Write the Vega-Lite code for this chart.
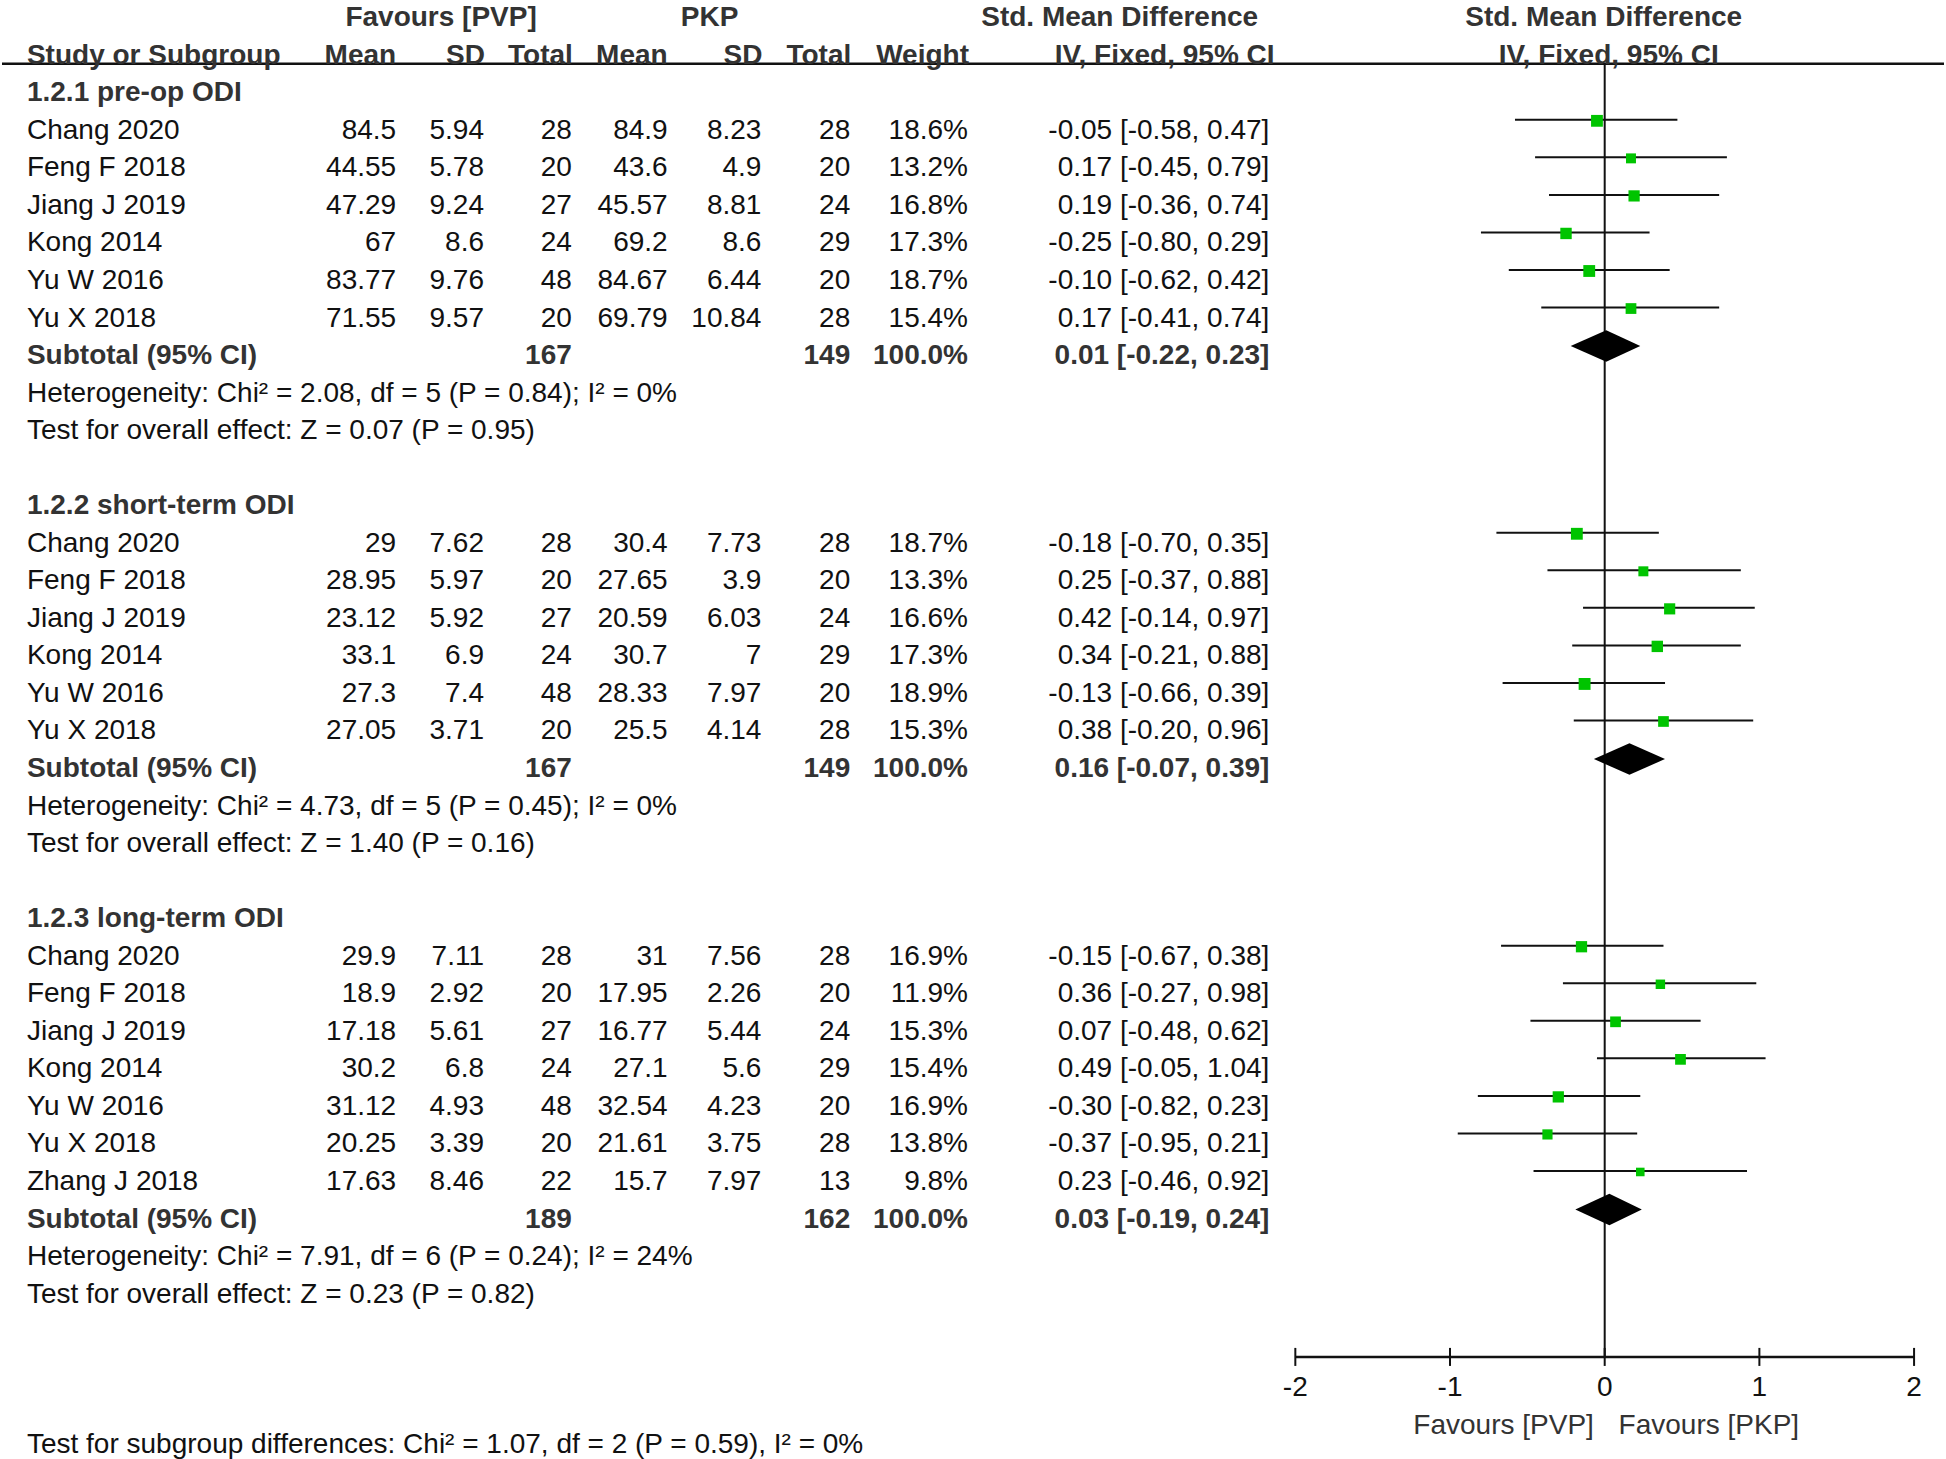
{
  "$schema": "https://vega.github.io/schema/vega-lite/v6.json",
  "width": 1946,
  "height": 1459,
  "autosize": {"type": "fit", "contains": "padding"},
  "padding": 0,
  "background": "white",
  "config": {
    "view": {"stroke": null},
    "axis": {"disable": true},
    "text": {"font": "Liberation Sans", "fontSize": 28, "baseline": "middle", "color": "#111", "dy": 3}
  },
  "datasets": {
    "studies": [
      {"g": 1, "row": 1, "study": "Chang 2020", "m1": 84.5, "s1": 5.94, "n1": 28, "m2": 84.9, "s2": 8.23, "n2": 28, "w": 18.6, "est": -0.05, "lo": -0.58, "hi": 0.47, "ci": "-0.05 [-0.58, 0.47]"},
      {"g": 1, "row": 2, "study": "Feng F 2018", "m1": 44.55, "s1": 5.78, "n1": 20, "m2": 43.6, "s2": 4.9, "n2": 20, "w": 13.2, "est": 0.17, "lo": -0.45, "hi": 0.79, "ci": "0.17 [-0.45, 0.79]"},
      {"g": 1, "row": 3, "study": "Jiang J 2019", "m1": 47.29, "s1": 9.24, "n1": 27, "m2": 45.57, "s2": 8.81, "n2": 24, "w": 16.8, "est": 0.19, "lo": -0.36, "hi": 0.74, "ci": "0.19 [-0.36, 0.74]"},
      {"g": 1, "row": 4, "study": "Kong 2014", "m1": 67, "s1": 8.6, "n1": 24, "m2": 69.2, "s2": 8.6, "n2": 29, "w": 17.3, "est": -0.25, "lo": -0.80, "hi": 0.29, "ci": "-0.25 [-0.80, 0.29]"},
      {"g": 1, "row": 5, "study": "Yu W 2016", "m1": 83.77, "s1": 9.76, "n1": 48, "m2": 84.67, "s2": 6.44, "n2": 20, "w": 18.7, "est": -0.10, "lo": -0.62, "hi": 0.42, "ci": "-0.10 [-0.62, 0.42]"},
      {"g": 1, "row": 6, "study": "Yu X 2018", "m1": 71.55, "s1": 9.57, "n1": 20, "m2": 69.79, "s2": 10.84, "n2": 28, "w": 15.4, "est": 0.17, "lo": -0.41, "hi": 0.74, "ci": "0.17 [-0.41, 0.74]"},
      {"g": 2, "row": 12, "study": "Chang 2020", "m1": 29, "s1": 7.62, "n1": 28, "m2": 30.4, "s2": 7.73, "n2": 28, "w": 18.7, "est": -0.18, "lo": -0.70, "hi": 0.35, "ci": "-0.18 [-0.70, 0.35]"},
      {"g": 2, "row": 13, "study": "Feng F 2018", "m1": 28.95, "s1": 5.97, "n1": 20, "m2": 27.65, "s2": 3.9, "n2": 20, "w": 13.3, "est": 0.25, "lo": -0.37, "hi": 0.88, "ci": "0.25 [-0.37, 0.88]"},
      {"g": 2, "row": 14, "study": "Jiang J 2019", "m1": 23.12, "s1": 5.92, "n1": 27, "m2": 20.59, "s2": 6.03, "n2": 24, "w": 16.6, "est": 0.42, "lo": -0.14, "hi": 0.97, "ci": "0.42 [-0.14, 0.97]"},
      {"g": 2, "row": 15, "study": "Kong 2014", "m1": 33.1, "s1": 6.9, "n1": 24, "m2": 30.7, "s2": 7, "n2": 29, "w": 17.3, "est": 0.34, "lo": -0.21, "hi": 0.88, "ci": "0.34 [-0.21, 0.88]"},
      {"g": 2, "row": 16, "study": "Yu W 2016", "m1": 27.3, "s1": 7.4, "n1": 48, "m2": 28.33, "s2": 7.97, "n2": 20, "w": 18.9, "est": -0.13, "lo": -0.66, "hi": 0.39, "ci": "-0.13 [-0.66, 0.39]"},
      {"g": 2, "row": 17, "study": "Yu X 2018", "m1": 27.05, "s1": 3.71, "n1": 20, "m2": 25.5, "s2": 4.14, "n2": 28, "w": 15.3, "est": 0.38, "lo": -0.20, "hi": 0.96, "ci": "0.38 [-0.20, 0.96]"},
      {"g": 3, "row": 23, "study": "Chang 2020", "m1": 29.9, "s1": 7.11, "n1": 28, "m2": 31, "s2": 7.56, "n2": 28, "w": 16.9, "est": -0.15, "lo": -0.67, "hi": 0.38, "ci": "-0.15 [-0.67, 0.38]"},
      {"g": 3, "row": 24, "study": "Feng F 2018", "m1": 18.9, "s1": 2.92, "n1": 20, "m2": 17.95, "s2": 2.26, "n2": 20, "w": 11.9, "est": 0.36, "lo": -0.27, "hi": 0.98, "ci": "0.36 [-0.27, 0.98]"},
      {"g": 3, "row": 25, "study": "Jiang J 2019", "m1": 17.18, "s1": 5.61, "n1": 27, "m2": 16.77, "s2": 5.44, "n2": 24, "w": 15.3, "est": 0.07, "lo": -0.48, "hi": 0.62, "ci": "0.07 [-0.48, 0.62]"},
      {"g": 3, "row": 26, "study": "Kong 2014", "m1": 30.2, "s1": 6.8, "n1": 24, "m2": 27.1, "s2": 5.6, "n2": 29, "w": 15.4, "est": 0.49, "lo": -0.05, "hi": 1.04, "ci": "0.49 [-0.05, 1.04]"},
      {"g": 3, "row": 27, "study": "Yu W 2016", "m1": 31.12, "s1": 4.93, "n1": 48, "m2": 32.54, "s2": 4.23, "n2": 20, "w": 16.9, "est": -0.30, "lo": -0.82, "hi": 0.23, "ci": "-0.30 [-0.82, 0.23]"},
      {"g": 3, "row": 28, "study": "Yu X 2018", "m1": 20.25, "s1": 3.39, "n1": 20, "m2": 21.61, "s2": 3.75, "n2": 28, "w": 13.8, "est": -0.37, "lo": -0.95, "hi": 0.21, "ci": "-0.37 [-0.95, 0.21]"},
      {"g": 3, "row": 29, "study": "Zhang J 2018", "m1": 17.63, "s1": 8.46, "n1": 22, "m2": 15.7, "s2": 7.97, "n2": 13, "w": 9.8, "est": 0.23, "lo": -0.46, "hi": 0.92, "ci": "0.23 [-0.46, 0.92]"}
    ],
    "subtotals": [
      {"g": 1, "row": 7, "label": "Subtotal (95% CI)", "n1": 167, "n2": 149, "wt": "100.0%", "est": 0.01, "lo": -0.22, "hi": 0.23, "ci": "0.01 [-0.22, 0.23]"},
      {"g": 2, "row": 18, "label": "Subtotal (95% CI)", "n1": 167, "n2": 149, "wt": "100.0%", "est": 0.16, "lo": -0.07, "hi": 0.39, "ci": "0.16 [-0.07, 0.39]"},
      {"g": 3, "row": 30, "label": "Subtotal (95% CI)", "n1": 189, "n2": 162, "wt": "100.0%", "est": 0.03, "lo": -0.19, "hi": 0.24, "ci": "0.03 [-0.19, 0.24]"}
    ],
    "groups": [
      {"row": 0, "label": "1.2.1 pre-op ODI"},
      {"row": 11, "label": "1.2.2 short-term ODI"},
      {"row": 22, "label": "1.2.3 long-term ODI"}
    ],
    "notes": [
      {"row": 8, "label": "Heterogeneity: Chi² = 2.08, df = 5 (P = 0.84); I² = 0%"},
      {"row": 9, "label": "Test for overall effect: Z = 0.07 (P = 0.95)"},
      {"row": 19, "label": "Heterogeneity: Chi² = 4.73, df = 5 (P = 0.45); I² = 0%"},
      {"row": 20, "label": "Test for overall effect: Z = 1.40 (P = 0.16)"},
      {"row": 31, "label": "Heterogeneity: Chi² = 7.91, df = 6 (P = 0.24); I² = 24%"},
      {"row": 32, "label": "Test for overall effect: Z = 0.23 (P = 0.82)"},
      {"row": 36, "label": "Test for subgroup differences: Chi² = 1.07, df = 2 (P = 0.59), I² = 0%"}
    ],
    "ticks": [{"t": -2}, {"t": -1}, {"t": 0}, {"t": 1}, {"t": 2}]
  },
  "resolve": {"scale": {"x": "independent"}},
  "layer": [
    {
      "layer": [
        {
          "data": {"values": [{}]},
          "mark": {"type": "rule", "color": "#111", "strokeWidth": 2.5},
          "encoding": {
            "x": {"datum": 0, "type": "quantitative", "scale": {"domain": [0, 1946], "nice": false, "zero": false}, "axis": null},
            "x2": {"datum": 1946},
            "y": {"datum": -0.706, "type": "quantitative", "scale": {"domain": [-2.405, 36.326], "reverse": true, "nice": false, "zero": false}, "axis": null}
          }
        },
        {"data": {"values": [{}]}, "mark": {"type": "text", "text": "Favours [PVP]", "fontWeight": "bold", "color": "#333", "align": "center"},
         "encoding": {"x": {"datum": 440, "type": "quantitative"}, "y": {"datum": -2, "type": "quantitative"}}},
        {"data": {"values": [{}]}, "mark": {"type": "text", "text": "PKP", "fontWeight": "bold", "color": "#333", "align": "center"},
         "encoding": {"x": {"datum": 709, "type": "quantitative"}, "y": {"datum": -2, "type": "quantitative"}}},
        {"data": {"values": [{}]}, "mark": {"type": "text", "text": "Std. Mean Difference", "fontWeight": "bold", "color": "#333", "align": "center"},
         "encoding": {"x": {"datum": 1120, "type": "quantitative"}, "y": {"datum": -2, "type": "quantitative"}}},
        {"data": {"values": [{}]}, "mark": {"type": "text", "text": "Std. Mean Difference", "fontWeight": "bold", "color": "#333", "align": "center"},
         "encoding": {"x": {"datum": 1605, "type": "quantitative"}, "y": {"datum": -2, "type": "quantitative"}}},
        {"data": {"values": [{}]}, "mark": {"type": "text", "text": "Study or Subgroup", "fontWeight": "bold", "color": "#333", "align": "left"},
         "encoding": {"x": {"datum": 25, "type": "quantitative"}, "y": {"datum": -1, "type": "quantitative"}}},
        {"data": {"values": [{}]}, "mark": {"type": "text", "text": "Mean", "fontWeight": "bold", "color": "#333", "align": "right"},
         "encoding": {"x": {"datum": 395, "type": "quantitative"}, "y": {"datum": -1, "type": "quantitative"}}},
        {"data": {"values": [{}]}, "mark": {"type": "text", "text": "SD", "fontWeight": "bold", "color": "#333", "align": "right"},
         "encoding": {"x": {"datum": 484, "type": "quantitative"}, "y": {"datum": -1, "type": "quantitative"}}},
        {"data": {"values": [{}]}, "mark": {"type": "text", "text": "Total", "fontWeight": "bold", "color": "#333", "align": "right"},
         "encoding": {"x": {"datum": 572, "type": "quantitative"}, "y": {"datum": -1, "type": "quantitative"}}},
        {"data": {"values": [{}]}, "mark": {"type": "text", "text": "Mean", "fontWeight": "bold", "color": "#333", "align": "right"},
         "encoding": {"x": {"datum": 667, "type": "quantitative"}, "y": {"datum": -1, "type": "quantitative"}}},
        {"data": {"values": [{}]}, "mark": {"type": "text", "text": "SD", "fontWeight": "bold", "color": "#333", "align": "right"},
         "encoding": {"x": {"datum": 762, "type": "quantitative"}, "y": {"datum": -1, "type": "quantitative"}}},
        {"data": {"values": [{}]}, "mark": {"type": "text", "text": "Total", "fontWeight": "bold", "color": "#333", "align": "right"},
         "encoding": {"x": {"datum": 851, "type": "quantitative"}, "y": {"datum": -1, "type": "quantitative"}}},
        {"data": {"values": [{}]}, "mark": {"type": "text", "text": "Weight", "fontWeight": "bold", "color": "#333", "align": "right"},
         "encoding": {"x": {"datum": 969, "type": "quantitative"}, "y": {"datum": -1, "type": "quantitative"}}},
        {"data": {"values": [{}]}, "mark": {"type": "text", "text": "IV, Fixed, 95% CI", "fontWeight": "bold", "color": "#333", "align": "center"},
         "encoding": {"x": {"datum": 1165, "type": "quantitative"}, "y": {"datum": -1, "type": "quantitative"}}},
        {"data": {"values": [{}]}, "mark": {"type": "text", "text": "IV, Fixed, 95% CI", "fontWeight": "bold", "color": "#333", "align": "center"},
         "encoding": {"x": {"datum": 1610, "type": "quantitative"}, "y": {"datum": -1, "type": "quantitative"}}},

        {"data": {"name": "groups"}, "mark": {"type": "text", "fontWeight": "bold", "color": "#333", "align": "left"},
         "encoding": {"x": {"datum": 25, "type": "quantitative"}, "y": {"field": "row", "type": "quantitative"}, "text": {"field": "label", "type": "nominal"}}},
        {"data": {"name": "notes"}, "mark": {"type": "text", "align": "left"},
         "encoding": {"x": {"datum": 25, "type": "quantitative"}, "y": {"field": "row", "type": "quantitative"}, "text": {"field": "label", "type": "nominal"}}},

        {"data": {"name": "studies"}, "mark": {"type": "text", "align": "left"},
         "encoding": {"x": {"datum": 25, "type": "quantitative"}, "y": {"field": "row", "type": "quantitative"}, "text": {"field": "study", "type": "nominal"}}},
        {"data": {"name": "studies"}, "mark": {"type": "text", "align": "right"},
         "encoding": {"x": {"datum": 395, "type": "quantitative"}, "y": {"field": "row", "type": "quantitative"}, "text": {"field": "m1", "type": "nominal"}}},
        {"data": {"name": "studies"}, "mark": {"type": "text", "align": "right"},
         "encoding": {"x": {"datum": 483, "type": "quantitative"}, "y": {"field": "row", "type": "quantitative"}, "text": {"field": "s1", "type": "nominal"}}},
        {"data": {"name": "studies"}, "mark": {"type": "text", "align": "right"},
         "encoding": {"x": {"datum": 571, "type": "quantitative"}, "y": {"field": "row", "type": "quantitative"}, "text": {"field": "n1", "type": "nominal"}}},
        {"data": {"name": "studies"}, "mark": {"type": "text", "align": "right"},
         "encoding": {"x": {"datum": 667, "type": "quantitative"}, "y": {"field": "row", "type": "quantitative"}, "text": {"field": "m2", "type": "nominal"}}},
        {"data": {"name": "studies"}, "mark": {"type": "text", "align": "right"},
         "encoding": {"x": {"datum": 761, "type": "quantitative"}, "y": {"field": "row", "type": "quantitative"}, "text": {"field": "s2", "type": "nominal"}}},
        {"data": {"name": "studies"}, "mark": {"type": "text", "align": "right"},
         "encoding": {"x": {"datum": 850, "type": "quantitative"}, "y": {"field": "row", "type": "quantitative"}, "text": {"field": "n2", "type": "nominal"}}},
        {"data": {"name": "studies"}, "transform": [{"calculate": "format(datum.w, '.1f') + '%'", "as": "wl"}],
         "mark": {"type": "text", "align": "right"},
         "encoding": {"x": {"datum": 968, "type": "quantitative"}, "y": {"field": "row", "type": "quantitative"}, "text": {"field": "wl", "type": "nominal"}}},
        {"data": {"name": "studies"}, "mark": {"type": "text", "align": "right"},
         "encoding": {"x": {"datum": 1270, "type": "quantitative"}, "y": {"field": "row", "type": "quantitative"}, "text": {"field": "ci", "type": "nominal"}}},

        {"data": {"name": "subtotals"}, "mark": {"type": "text", "align": "left", "fontWeight": "bold", "color": "#333"},
         "encoding": {"x": {"datum": 25, "type": "quantitative"}, "y": {"field": "row", "type": "quantitative"}, "text": {"field": "label", "type": "nominal"}}},
        {"data": {"name": "subtotals"}, "mark": {"type": "text", "align": "right", "fontWeight": "bold", "color": "#333"},
         "encoding": {"x": {"datum": 571, "type": "quantitative"}, "y": {"field": "row", "type": "quantitative"}, "text": {"field": "n1", "type": "nominal"}}},
        {"data": {"name": "subtotals"}, "mark": {"type": "text", "align": "right", "fontWeight": "bold", "color": "#333"},
         "encoding": {"x": {"datum": 850, "type": "quantitative"}, "y": {"field": "row", "type": "quantitative"}, "text": {"field": "n2", "type": "nominal"}}},
        {"data": {"name": "subtotals"}, "mark": {"type": "text", "align": "right", "fontWeight": "bold", "color": "#333"},
         "encoding": {"x": {"datum": 968, "type": "quantitative"}, "y": {"field": "row", "type": "quantitative"}, "text": {"field": "wt", "type": "nominal"}}},
        {"data": {"name": "subtotals"}, "mark": {"type": "text", "align": "right", "fontWeight": "bold", "color": "#333"},
         "encoding": {"x": {"datum": 1270, "type": "quantitative"}, "y": {"field": "row", "type": "quantitative"}, "text": {"field": "ci", "type": "nominal"}}}
      ]
    },
    {
      "layer": [
        {
          "data": {"values": [{}]},
          "mark": {"type": "rule", "color": "#111", "strokeWidth": 2},
          "encoding": {
            "x": {"datum": 0, "type": "quantitative", "scale": {"domain": [-10.361, 2.1935], "nice": false, "zero": false}, "axis": null},
            "y": {"datum": -0.706, "type": "quantitative"},
            "y2": {"datum": 33.74}
          }
        },
        {"data": {"name": "studies"}, "mark": {"type": "rule", "color": "#111", "strokeWidth": 2, "yOffset": -8},
         "encoding": {"x": {"field": "lo", "type": "quantitative"}, "x2": {"field": "hi"}, "y": {"field": "row", "type": "quantitative"}}},
        {"data": {"name": "studies"}, "mark": {"type": "point", "shape": "square", "filled": true, "color": "#00C400", "opacity": 1, "strokeWidth": 0, "yOffset": -7},
         "encoding": {"x": {"field": "est", "type": "quantitative"}, "y": {"field": "row", "type": "quantitative"},
                      "size": {"field": "w", "type": "quantitative", "scale": {"domain": [0, 20], "range": [0, 150], "zero": true}, "legend": null}}},
        {"data": {"name": "subtotals"},
         "transform": [
           {"fold": ["lo", "est", "hi"], "as": ["k", "v"]},
           {"calculate": "datum.k === 'est' ? 0.42 : 0", "as": "hh"},
           {"calculate": "datum.row - datum.hh", "as": "ya"},
           {"calculate": "datum.row + datum.hh", "as": "yb"}
         ],
         "mark": {"type": "area", "color": "#000", "opacity": 1, "orient": "vertical", "yOffset": -7, "y2Offset": -7},
         "encoding": {"x": {"field": "v", "type": "quantitative"}, "y": {"field": "ya", "type": "quantitative"}, "y2": {"field": "yb"}, "detail": {"field": "g", "type": "nominal"}}},
        {"data": {"values": [{}]}, "mark": {"type": "rule", "color": "#111", "strokeWidth": 2.5},
         "encoding": {"x": {"datum": -2, "type": "quantitative"}, "x2": {"datum": 2}, "y": {"datum": 33.74, "type": "quantitative"}}},
        {"data": {"name": "ticks"}, "mark": {"type": "rule", "color": "#111", "strokeWidth": 2},
         "encoding": {"x": {"field": "t", "type": "quantitative"}, "y": {"datum": 33.5, "type": "quantitative"}, "y2": {"datum": 33.98}}},
        {"data": {"name": "ticks"}, "mark": {"type": "text", "align": "center"},
         "encoding": {"x": {"field": "t", "type": "quantitative"}, "y": {"datum": 34.5, "type": "quantitative"}, "text": {"field": "t", "type": "nominal"}}},
        {"data": {"values": [{}]}, "mark": {"type": "text", "text": "Favours [PVP]", "align": "right", "color": "#333"},
         "encoding": {"x": {"datum": -0.07, "type": "quantitative"}, "y": {"datum": 35.5, "type": "quantitative"}}},
        {"data": {"values": [{}]}, "mark": {"type": "text", "text": "Favours [PKP]", "align": "left", "color": "#333"},
         "encoding": {"x": {"datum": 0.09, "type": "quantitative"}, "y": {"datum": 35.5, "type": "quantitative"}}}
      ]
    }
  ]
}
